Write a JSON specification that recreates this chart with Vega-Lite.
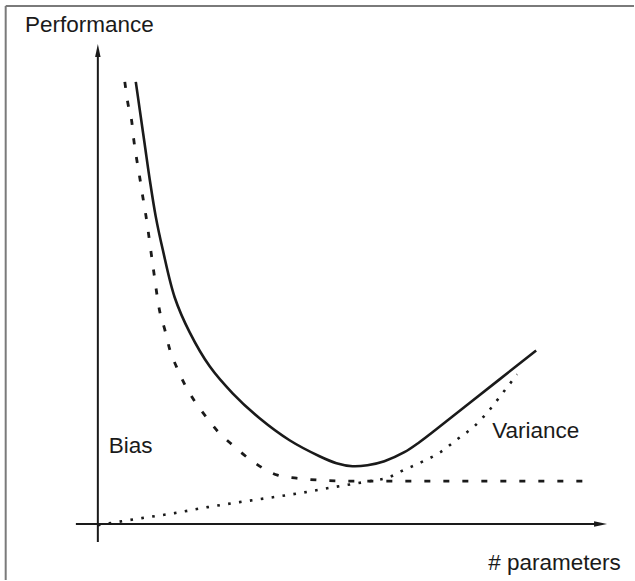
{
  "$schema": "https://vega.github.io/schema/vega-lite/v6.json",
  "width": 635,
  "height": 581,
  "padding": 0,
  "autosize": {"type": "fit", "contains": "padding"},
  "config": {"view": {"stroke": null}},
  "datasets": {
    "total": [
      {"x": 136, "y": 499}, {"x": 140, "y": 471}, {"x": 145, "y": 436}, {"x": 150, "y": 401},
      {"x": 156, "y": 364}, {"x": 163, "y": 331}, {"x": 175, "y": 283}, {"x": 190, "y": 248},
      {"x": 210, "y": 214}, {"x": 233, "y": 187}, {"x": 260, "y": 162}, {"x": 290, "y": 140},
      {"x": 320, "y": 124}, {"x": 337, "y": 117}, {"x": 353, "y": 114}, {"x": 368, "y": 115},
      {"x": 385, "y": 119}, {"x": 405, "y": 128}, {"x": 420, "y": 138}, {"x": 437, "y": 151},
      {"x": 470, "y": 177}, {"x": 537, "y": 230}
    ],
    "bias": [
      {"x": 125, "y": 499}, {"x": 128, "y": 478}, {"x": 132, "y": 459}, {"x": 134, "y": 441},
      {"x": 137, "y": 421}, {"x": 140, "y": 403}, {"x": 143, "y": 384}, {"x": 146, "y": 366},
      {"x": 153, "y": 316}, {"x": 160, "y": 269}, {"x": 165, "y": 251}, {"x": 170, "y": 231},
      {"x": 177, "y": 213}, {"x": 185, "y": 196}, {"x": 195, "y": 179}, {"x": 206, "y": 164},
      {"x": 218, "y": 149}, {"x": 232, "y": 136}, {"x": 250, "y": 121}, {"x": 278, "y": 105},
      {"x": 297, "y": 102}, {"x": 320, "y": 100}, {"x": 350, "y": 99}, {"x": 588, "y": 99}
    ],
    "variance": [
      {"x": 98, "y": 55}, {"x": 142, "y": 62}, {"x": 175, "y": 67}, {"x": 208, "y": 73},
      {"x": 240, "y": 78}, {"x": 300, "y": 87}, {"x": 340, "y": 94}, {"x": 370, "y": 99},
      {"x": 390, "y": 103}, {"x": 402, "y": 109}, {"x": 422, "y": 118}, {"x": 441, "y": 128},
      {"x": 458, "y": 141}, {"x": 475, "y": 154}, {"x": 490, "y": 170}, {"x": 504, "y": 188},
      {"x": 518, "y": 206}
    ],
    "frame": [
      {"x": 5.7, "y": 575, "x2": 635, "y2": 575},
      {"x": 5.7, "y": 0, "x2": 5.7, "y2": 575}
    ],
    "axes": [
      {"x": 98, "y": 38, "x2": 98, "y2": 526},
      {"x": 76, "y": 56, "x2": 597, "y2": 56}
    ],
    "arrowUp": [{"x": 98, "y": 530.5}],
    "arrowRight": [{"x": 601.5, "y": 56}],
    "labels": [
      {"x": 25, "y": 549, "label": "Performance"},
      {"x": 109, "y": 127, "label": "Bias"},
      {"x": 493, "y": 142, "label": "Variance"},
      {"x": 489, "y": 10, "label": "# parameters"}
    ]
  },
  "encoding": {
    "x": {"field": "x", "type": "quantitative", "scale": {"domain": [0, 635], "nice": false, "zero": false}, "axis": null},
    "y": {"field": "y", "type": "quantitative", "scale": {"domain": [0, 581], "nice": false, "zero": false}, "axis": null}
  },
  "layer": [
    {
      "data": {"name": "frame"},
      "mark": {"type": "rule", "stroke": "#7a7a7a", "strokeWidth": 2},
      "encoding": {"x2": {"field": "x2"}, "y2": {"field": "y2"}}
    },
    {
      "data": {"name": "axes"},
      "mark": {"type": "rule", "stroke": "#1a1a1a", "strokeWidth": 2},
      "encoding": {"x2": {"field": "x2"}, "y2": {"field": "y2"}}
    },
    {
      "data": {"name": "arrowUp"},
      "mark": {"type": "point", "shape": "M0,-1L0.42,1L-0.42,1Z", "size": 169, "filled": true, "color": "#1a1a1a", "opacity": 1, "strokeWidth": 0}
    },
    {
      "data": {"name": "arrowRight"},
      "mark": {"type": "point", "shape": "M1,0L-1,-0.42L-1,0.42Z", "size": 169, "filled": true, "color": "#1a1a1a", "opacity": 1, "strokeWidth": 0}
    },
    {
      "data": {"name": "variance"},
      "mark": {"type": "line", "interpolate": "monotone", "stroke": "#1a1a1a", "strokeWidth": 2.6, "strokeDash": [2.6, 8.4], "strokeCap": "butt"}
    },
    {
      "data": {"name": "bias"},
      "mark": {"type": "line", "interpolate": "monotone", "stroke": "#1a1a1a", "strokeWidth": 2.8, "strokeDash": [6, 13], "strokeCap": "butt"}
    },
    {
      "data": {"name": "total"},
      "mark": {"type": "line", "interpolate": "catmull-rom", "stroke": "#1a1a1a", "strokeWidth": 2.6}
    },
    {
      "data": {"name": "labels"},
      "mark": {"type": "text", "align": "left", "baseline": "alphabetic", "font": "Liberation Sans", "fontSize": 22.5, "color": "#1a1a1a"},
      "encoding": {"text": {"field": "label"}}
    }
  ]
}
